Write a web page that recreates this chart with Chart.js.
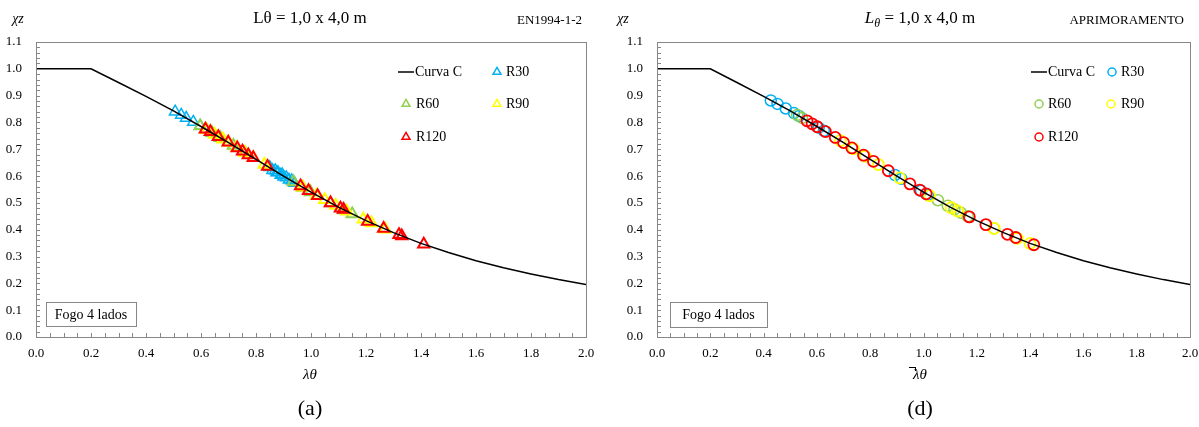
<!DOCTYPE html>
<html>
<head>
<meta charset="utf-8">
<script src="https://cdn.jsdelivr.net/npm/chart.js@4.4.0/dist/chart.umd.min.js"></script>
<style>
  html, body { margin: 0; padding: 0; background: #fff; }
  #wrap { position: relative; width: 1199px; height: 427px; }
  .box { position: absolute; top: 0; height: 427px; }
</style>
</head>
<body>
<div id="wrap">
  <div class="box" style="left:0;width:599px"><canvas id="chartA" width="599" height="427"></canvas></div>
  <div class="box" style="left:599px;width:600px"><canvas id="chartD" width="600" height="427"></canvas></div>
</div>
<script>
// tick labels
var xTickLabels = ['0.0','0.2','0.4','0.6','0.8','1.0','1.2','1.4','1.6','1.8','2.0'];
var yTickLabels = ['0.0','0.1','0.2','0.3','0.4','0.5','0.6','0.7','0.8','0.9','1.0','1.1'];

// Curva C
var curveX = [0,0.1,0.2,0.3,0.4,0.5,0.6,0.7,0.8,0.9,1.0,1.1,1.2,1.3,1.4,1.5,1.6,1.7,1.8,1.9,2.0];
var curveY = [1.000,1.000,1.000,0.949,0.897,0.843,0.785,0.725,0.662,0.600,0.540,0.484,0.434,0.389,0.349,0.315,0.284,0.258,0.235,0.214,0.196];

// (a) EN1994-1-2
var aR30X = [0.506,0.528,0.546,0.572,0.597,0.85,0.86,0.87,0.875,0.88,0.89,0.895,0.90,0.91,0.92,0.93,0.94];
var aR30Y = [0.840,0.828,0.817,0.802,0.787,0.633,0.622,0.621,0.613,0.614,0.604,0.606,0.598,0.595,0.586,0.584,0.574];
var aR60X = [0.597,0.64,0.670,0.718,0.76,0.936,0.97,0.998,1.071,1.12,1.15];
var aR60Y = [0.787,0.762,0.743,0.714,0.687,0.578,0.557,0.541,0.500,0.474,0.459];
var aR90X = [0.62,0.65,0.68,0.70,0.73,0.76,0.79,0.83,0.97,1.02,1.05,1.09,1.13,1.19,1.22,1.27];
var aR90Y = [0.773,0.755,0.737,0.725,0.706,0.687,0.668,0.643,0.558,0.529,0.512,0.490,0.469,0.439,0.425,0.402];
var aR120X = [0.616,0.634,0.663,0.699,0.732,0.751,0.772,0.790,0.842,0.962,0.991,1.024,1.071,1.107,1.118,1.206,1.264,1.320,1.330,1.410];
var aR120Y = [0.775,0.765,0.747,0.726,0.705,0.693,0.679,0.668,0.636,0.563,0.545,0.527,0.500,0.480,0.475,0.431,0.405,0.381,0.377,0.346];

// (d) APRIMORAMENTO
var dR30X = [0.427,0.452,0.483,0.514,0.533,0.607,0.626,0.893,0.917,0.991,1.017];
var dR30Y = [0.882,0.869,0.852,0.835,0.824,0.781,0.769,0.604,0.590,0.545,0.530];
var dR60X = [0.526,0.544,1.054,1.091,1.116,1.141,1.166,1.265];
var dR60Y = [0.828,0.817,0.510,0.489,0.476,0.463,0.450,0.405];
var dR90X = [0.688,0.737,0.781,0.831,0.911,1.023,1.104,1.128,1.265,1.352,1.400];
var dR90Y = [0.732,0.702,0.674,0.643,0.593,0.527,0.482,0.470,0.405,0.368,0.349];
var dR120X = [0.563,0.582,0.601,0.632,0.669,0.700,0.731,0.775,0.812,0.868,0.949,0.986,1.010,1.172,1.234,1.315,1.346,1.414];
var dR120Y = [0.806,0.795,0.784,0.766,0.744,0.725,0.705,0.678,0.655,0.620,0.571,0.548,0.534,0.448,0.419,0.383,0.371,0.344];

var seriesNames = ['Curva C','R30','R60','R90','R120'];
var seriesColors = ['#000000','#00B0F0','#92D050','#FFFF00','#FF0000'];

var SERIF = '"Liberation Serif", "Times New Roman", serif';
var AXIS = '#878787';

function pts(xs, ys) {
  return xs.map(function (x, i) { return { x: x, y: ys[i] }; });
}

function line(ctx, x1, y1, x2, y2) {
  ctx.beginPath(); ctx.moveTo(x1, y1); ctx.lineTo(x2, y2); ctx.stroke();
}

function marker(ctx, style, x, y, r, color, w) {
  ctx.save();
  ctx.strokeStyle = color;
  ctx.lineWidth = w;
  ctx.beginPath();
  if (style === 'triangle') {
    ctx.moveTo(x, y - r);
    ctx.lineTo(x + r * 0.866, y + r * 0.5);
    ctx.lineTo(x - r * 0.866, y + r * 0.5);
    ctx.closePath();
  } else {
    ctx.arc(x, y, r, 0, Math.PI * 2);
  }
  ctx.stroke();
  ctx.restore();
}

// frame, inward ticks, legend and all the loose texts
function decorPlugin(cfg) {
  return {
    id: 'decor',
    afterDraw: function (chart) {
      var ctx = chart.ctx, a = chart.chartArea;
      var xs = chart.scales.x, ys = chart.scales.y;
      ctx.save();

      // frame
      ctx.strokeStyle = AXIS;
      ctx.lineWidth = 1;
      ctx.strokeRect(Math.round(a.left) + 0.5, Math.round(a.top) + 0.5,
        Math.round(a.right - a.left), Math.round(a.bottom - a.top));

      // ticks
      var i, p;
      for (i = 0; i <= 40; i++) {
        p = Math.round(xs.getPixelForValue(i * 0.05)) + 0.5;
        line(ctx, p, a.bottom, p, a.bottom - 4);
      }
      for (i = 0; i <= 55; i++) {
        p = Math.round(ys.getPixelForValue(i * 0.02)) + 0.5;
        line(ctx, a.left, p, a.left + 4, p);
      }

      // legend
      ctx.fillStyle = '#000';
      ctx.font = '14px ' + SERIF;
      ctx.textBaseline = 'middle';
      ctx.textAlign = 'left';
      cfg.legend.forEach(function (it) {
        var ds = chart.data.datasets[it.ds];
        if (it.ds === 0) {
          ctx.strokeStyle = '#000';
          ctx.lineWidth = 1.5;
          line(ctx, it.mx - 8, it.y, it.mx + 8, it.y);
        } else {
          marker(ctx, cfg.style, it.mx, it.y, cfg.style === 'triangle' ? 4.6 : 4, ds.borderColor, 1.5);
        }
        ctx.fillStyle = '#000';
        ctx.fillText(ds.label, it.tx, it.y);
      });

      // title
      ctx.textBaseline = 'middle';
      if (cfg.italicTitle) {
        var p1 = 'L', p2 = '\u03B8', p3 = ' = 1,0 x 4,0 m';
        ctx.font = 'italic 17px ' + SERIF; var w1 = ctx.measureText(p1).width;
        ctx.font = 'italic 12px ' + SERIF; var w2 = ctx.measureText(p2).width;
        ctx.font = '17px ' + SERIF; var w3 = ctx.measureText(p3).width;
        var sx = cfg.titleX - (w1 + w2 + w3) / 2;
        ctx.textAlign = 'left';
        ctx.font = 'italic 17px ' + SERIF; ctx.fillText(p1, sx, 19);
        ctx.font = 'italic 12px ' + SERIF; ctx.fillText(p2, sx + w1, 24);
        ctx.font = '17px ' + SERIF; ctx.fillText(p3, sx + w1 + w2, 19);
      } else {
        ctx.textAlign = 'center';
        ctx.font = '17px ' + SERIF;
        ctx.fillText('L\u03B8 = 1,0 x 4,0 m', cfg.titleX, 19);
      }

      // corner label
      ctx.textAlign = 'right';
      ctx.font = '13px ' + SERIF;
      ctx.fillText(cfg.corner, cfg.cornerX, 21);

      // y axis title
      ctx.textAlign = 'center';
      ctx.font = 'italic 14px ' + SERIF;
      ctx.fillText('\u03C7z', cfg.yTitleX, 19);

      // x axis title
      ctx.font = 'italic 15px ' + SERIF;
      ctx.fillText('\u03BB\u03B8', cfg.titleX, 375);
      if (cfg.bar) {
        ctx.strokeStyle = '#000';
        ctx.lineWidth = 1;
        line(ctx, cfg.titleX - 11, 367.5, cfg.titleX - 4, 367.5);
        line(ctx, cfg.titleX - 4.5, 367.5, cfg.titleX - 4.5, 371);
      }

      // sub figure label
      ctx.font = '22px ' + SERIF;
      ctx.fillText(cfg.sub, cfg.titleX, 409);

      // Fogo 4 lados box
      ctx.strokeStyle = AXIS;
      ctx.lineWidth = 1;
      ctx.strokeRect(cfg.box[0] + 0.5, cfg.box[1] + 0.5, cfg.box[2], cfg.box[3]);
      ctx.fillStyle = '#000';
      ctx.font = '14px ' + SERIF;
      ctx.fillText('Fogo 4 lados', cfg.box[0] + cfg.box[2] / 2, cfg.box[1] + cfg.box[3] / 2 + 1);

      ctx.restore();
    }
  };
}

function makeChart(id, style, radius, sets, yWidth, padRight, cfg) {
  var datasets = [{
    label: seriesNames[0],
    data: pts(curveX, curveY),
    showLine: true,
    borderColor: seriesColors[0],
    borderWidth: 1.5,
    pointRadius: 0,
    order: 0
  }];
  sets.forEach(function (s, i) {
    datasets.push({
      label: seriesNames[i + 1],
      data: pts(s[0], s[1]),
      showLine: false,
      pointStyle: style,
      pointRadius: radius,
      borderColor: seriesColors[i + 1],
      backgroundColor: 'rgba(0,0,0,0)',
      borderWidth: s[2],
      order: 4 - i
    });
  });

  return new Chart(document.getElementById(id).getContext('2d'), {
    type: 'scatter',
    data: { datasets: datasets },
    options: {
      responsive: false,
      animation: false,
      layout: { padding: { left: 0, top: 42, right: padRight, bottom: 0 } },
      plugins: { legend: { display: false }, tooltip: { enabled: false } },
      scales: {
        x: {
          type: 'linear', min: 0, max: 2,
          grid: { display: false, drawTicks: false },
          border: { display: false },
          ticks: {
            stepSize: 0.2, padding: 9, color: '#000', maxRotation: 0,
            font: { family: SERIF, size: 13 },
            callback: function (v, i) { return xTickLabels[i]; }
          },
          afterFit: function (s) { s.height = 90; s.paddingLeft = 0; s.paddingRight = 0; }
        },
        y: {
          type: 'linear', min: 0, max: 1.1,
          grid: { display: false, drawTicks: false },
          border: { display: false },
          ticks: {
            stepSize: 0.1, padding: 14, color: '#000',
            font: { family: SERIF, size: 13 },
            callback: function (v, i) { return yTickLabels[i]; }
          },
          afterFit: function (s) { s.width = yWidth; s.paddingTop = 0; s.paddingBottom = 0; }
        }
      }
    },
    plugins: [decorPlugin(cfg)]
  });
}

makeChart('chartA', 'triangle', 6.5,
  [[aR30X, aR30Y, 1.5], [aR60X, aR60Y, 2], [aR90X, aR90Y, 2], [aR120X, aR120Y, 2]],
  36, 13,
  {
    style: 'triangle', titleX: 310, italicTitle: false, corner: 'EN1994-1-2', cornerX: 582,
    yTitleX: 18, bar: false, sub: '(a)', box: [46, 302, 90, 24],
    legend: [
      { ds: 0, mx: 406, tx: 415, y: 72 }, { ds: 1, mx: 497, tx: 506, y: 72 },
      { ds: 2, mx: 406, tx: 416, y: 104 }, { ds: 3, mx: 497, tx: 506, y: 104 },
      { ds: 4, mx: 406, tx: 416, y: 137 }
    ]
  });

makeChart('chartD', 'circle', 5.5,
  [[dR30X, dR30Y, 1.5], [dR60X, dR60Y, 1.5], [dR90X, dR90Y, 1.8], [dR120X, dR120Y, 1.8]],
  58, 9,
  {
    style: 'circle', titleX: 321, italicTitle: true, corner: 'APRIMORAMENTO', cornerX: 585,
    yTitleX: 24, bar: true, sub: '(d)', box: [71, 302, 97, 25],
    legend: [
      { ds: 0, mx: 440, tx: 449, y: 72 }, { ds: 1, mx: 513, tx: 522, y: 72 },
      { ds: 2, mx: 440, tx: 449, y: 104 }, { ds: 3, mx: 512, tx: 522, y: 104 },
      { ds: 4, mx: 440, tx: 449, y: 137 }
    ]
  });
</script>
</body>
</html>
